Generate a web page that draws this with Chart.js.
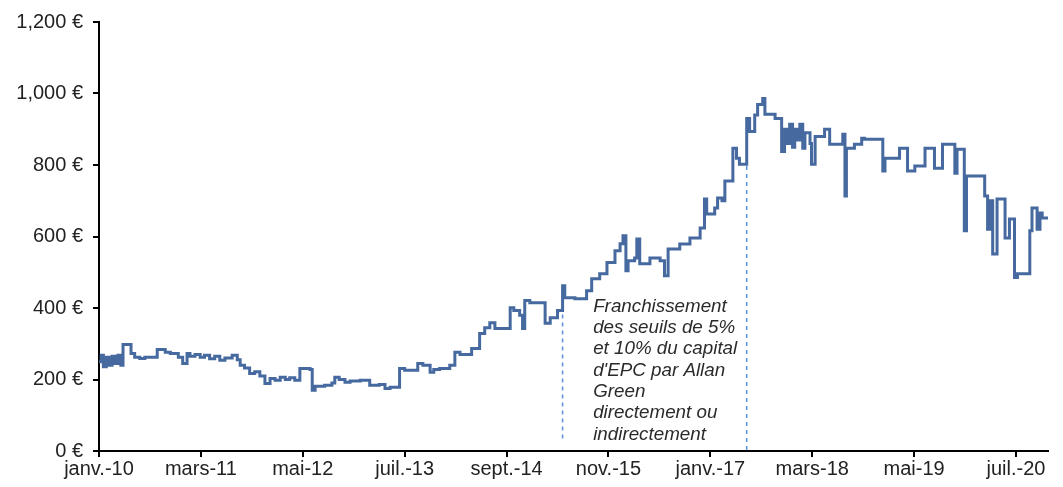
<!DOCTYPE html>
<html>
<head>
<meta charset="utf-8">
<script src="https://cdn.jsdelivr.net/npm/chart.js@4/dist/chart.umd.min.js"></script>
<style>
  html, body { margin: 0; padding: 0; background: #fff; }
  #wrap { width: 1063px; height: 487px; }
</style>
</head>
<body>
<div id="wrap"><canvas id="chart"></canvas></div>
<script>
// months since janv. 2010 and share price in euros
const months = [
  0.0, 0.3, 0.6, 1.0, 1.4, 1.8, 2.2, 2.6, 3.0, 3.3, 4.4, 4.9, 5.6, 6.3, 8.0, 9.1, 9.8, 10.9, 11.5, 12.1,
  12.5, 13.2, 13.9, 14.5, 15.2, 15.9, 16.6, 17.3, 18.3, 19.0, 19.4, 20.0, 20.7, 21.4, 22.1, 22.8, 23.5, 24.2, 24.9, 25.6,
  26.2, 26.9, 27.6, 29.0, 29.3, 29.7, 31.0, 32.0, 32.4, 33.0, 33.8, 34.5, 35.9, 37.2, 38.5, 39.3, 40.0, 41.3, 42.0, 43.8,
  44.5, 45.5, 46.0, 46.8, 48.2, 48.9, 49.6, 51.2, 52.3, 53.0, 53.7, 54.4, 56.5, 57.0, 57.8, 58.2, 58.5, 59.2, 61.3, 62.0,
  63.0, 63.7, 64.0, 65.4, 67.0, 67.7, 68.8, 69.8, 70.9, 71.6, 72.0, 72.4, 72.7, 73.6, 73.9, 74.3, 75.7, 77.1, 77.7, 78.2,
  79.8, 81.2, 82.6, 83.2, 83.5, 84.6, 85.0, 85.6, 86.0, 87.1, 87.6, 88.0, 89.0, 89.4, 90.1, 90.5, 91.2, 91.5, 92.9, 93.8,
  94.2, 94.6, 94.9, 95.3, 95.6, 96.0, 96.3, 96.7, 97.0, 97.7, 97.9, 98.4, 99.7, 100.4, 102.2, 102.5, 102.7, 103.8, 104.8, 105.2,
  107.7, 108.0, 110.0, 111.1, 112.1, 113.5, 114.8, 115.9, 117.6, 117.9, 118.9, 119.2, 121.7, 122.1, 122.4, 122.8, 123.4, 124.5, 125.1, 125.8,
  126.2, 127.9, 128.2, 128.9, 129.3, 129.6, 130.4
];
const prices = [
  250, 268, 236, 262, 240, 265, 245, 268, 240, 298, 273, 262, 259, 262, 284, 276, 273, 262, 245, 273,
  265, 270, 262, 268, 258, 265, 254, 260, 268, 255, 240, 232, 217, 222, 210, 189, 203, 198, 206, 200,
  205, 198, 231, 228, 170, 181, 184, 190, 206, 200, 192, 196, 198, 184, 186, 175, 178, 231, 226, 245,
  240, 220, 228, 231, 240, 276, 270, 287, 329, 345, 359, 343, 401, 393, 380, 343, 421, 415, 357, 373,
  393, 462, 429, 426, 448, 482, 496, 527, 560, 580, 602, 504, 532, 540, 593, 524, 540, 532, 490, 565,
  579, 596, 624, 705, 663, 680, 708, 700, 755, 847, 819, 802, 930, 894, 940, 969, 986, 942, 930, 838,
  900, 860, 914, 850, 900, 870, 914, 847, 890, 860, 802, 880, 900, 858, 886, 713, 847, 858, 875, 872,
  783, 819, 847, 783, 797, 847, 791, 858, 777, 844, 616, 769, 713, 620, 700, 551, 705, 596, 649, 485,
  496, 616, 680, 620, 666, 652, 652
];
const tickLabels = ['janv.-10', 'mars-11', 'mai-12', 'juil.-13', 'sept.-14', 'nov.-15', 'janv.-17', 'mars-18', 'mai-19', 'juil.-20'];
const tickStep = 14; // months between labels

// threshold crossings (month, bottom, top)
const markerMonths = [63.7, 89.0];
const markerLows = [35, 3];
const markerHighs = [395, 815];
const noteLines = ['Franchissement', 'des seuils de 5%', 'et 10% du capital', "d'EPC par Allan", 'Green', 'directement ou', 'indirectement'];

const lineColor = '#46699F';
const font = 'Liberation Sans, Arial, sans-serif';

const priceData = months.map((m, i) => ({ x: m, y: prices[i] }));
const markerSets = markerMonths.map((m, i) => ({
  data: [{ x: m, y: markerLows[i] }, { x: m, y: markerHighs[i] }],
  borderColor: '#5B8FE0',
  borderWidth: 1.5,
  borderDash: [4, 4],
  pointRadius: 0,
  order: 2
}));

const notePlugin = {
  id: 'note',
  afterDatasetsDraw(chart) {
    const { ctx, scales } = chart;
    const x = scales.x.getPixelForValue(67.9);
    const y0 = scales.y.getPixelForValue(404);
    ctx.save();
    ctx.font = 'italic 18.8px ' + font;
    ctx.fillStyle = '#2b2b2b';
    ctx.textBaseline = 'middle';
    noteLines.forEach((t, i) => ctx.fillText(t, x, y0 + i * 21.3));
    ctx.restore();
  }
};

const ctx = document.querySelector('#chart').getContext('2d');
const chart = new Chart(ctx, {
  type: 'line',
  data: {
    datasets: [
      {
        data: priceData,
        borderColor: lineColor,
        borderWidth: 3,
        stepped: 'before', // each price holds until the next point
        pointRadius: 0,
        fill: false,
        order: 1
      },
      ...markerSets
    ]
  },
  options: {
    responsive: true,
    maintainAspectRatio: false,
    animation: false,
    layout: { padding: { top: 20, right: 15, left: 0, bottom: 0 } },
    plugins: { legend: { display: false }, tooltip: { enabled: false } },
    scales: {
      x: {
        type: 'linear',
        min: 0,
        max: 130.4,
        afterBuildTicks: s => { s.ticks = tickLabels.map((_, i) => ({ value: i * tickStep })); },
        afterFit: s => { s.height = 36; },
        ticks: {
          autoSkip: false,
          maxRotation: 0,
          padding: 0,
          color: '#222',
          font: { family: font, size: 20 },
          callback: v => tickLabels[Math.round(v / tickStep)]
        },
        grid: { display: true, drawOnChartArea: false, drawTicks: true, tickLength: 6, color: '#000', lineWidth: 2 },
        border: { display: true, color: '#000', width: 2 }
      },
      y: {
        min: 0,
        max: 1200,
        afterFit: s => { s.width = 99; },
        ticks: {
          stepSize: 200,
          padding: 10,
          color: '#222',
          font: { family: font, size: 20 },
          callback: v => v.toLocaleString('en-US') + ' €'
        },
        grid: { display: true, drawOnChartArea: false, drawTicks: true, tickLength: 6, color: '#000', lineWidth: 2 },
        border: { display: true, color: '#000', width: 2 }
      }
    }
  },
  plugins: [notePlugin]
});
</script>
</body>
</html>
